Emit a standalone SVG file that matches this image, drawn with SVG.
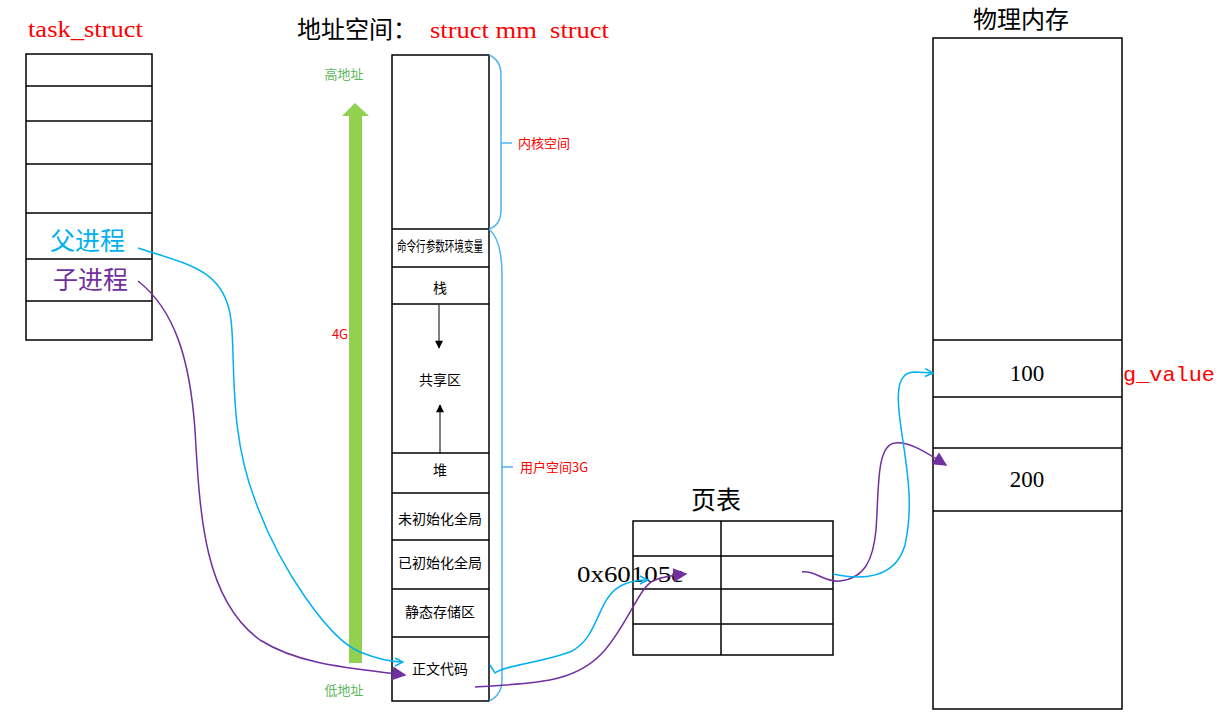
<svg xmlns="http://www.w3.org/2000/svg" width="1222" height="722" viewBox="0 0 1222 722">
<style>
.box{fill:#fff;stroke:#000;stroke-width:1.5}
.ln{stroke:#000;stroke-width:1.5}
.serif{font-family:"Liberation Serif","Noto Sans CJK SC",serif}
.cjk{font-family:"Noto Sans CJK SC","Liberation Serif",sans-serif}
.cell{font-family:"Noto Sans CJK SC",sans-serif;font-size:14px;fill:#000;text-anchor:middle}
.red{fill:#ff0000}
.lbl{font-family:"Noto Sans CJK SC",sans-serif;font-size:13px}
.green{fill:#5db75d}
.blue{fill:none;stroke:#00b0f0;stroke-width:1.5}
.purple{fill:none;stroke:#7030a0;stroke-width:1.5}
.brace{fill:none;stroke:#4fb3f0;stroke-width:1.5}
</style>
<defs>
<marker id="openBlue" viewBox="0 0 10 10" refX="9" refY="5" markerWidth="10" markerHeight="10" markerUnits="userSpaceOnUse" orient="auto">
<path d="M1,1 L9,5 L1,9" fill="none" stroke="#00b0f0" stroke-width="1.5"/>
</marker>
<marker id="fillPurple" viewBox="0 0 10 10" refX="9" refY="5" markerWidth="18" markerHeight="14" markerUnits="userSpaceOnUse" orient="auto">
<path d="M0,0 L10,5 L0,10 Z" fill="#7030a0"/>
</marker>
<marker id="blackArrow" viewBox="0 0 10 10" refX="9" refY="5" markerWidth="16" markerHeight="8" markerUnits="userSpaceOnUse" orient="auto">
<path d="M0,0 L10,5 L0,10 Z" fill="#000"/>
</marker>
</defs>

<g id="task_struct">
<text x="28" y="37" class="serif red" font-size="24" textLength="115" lengthAdjust="spacingAndGlyphs">task_struct</text>
<rect x="26" y="54" width="126" height="286" class="box"/>
<line x1="26" y1="86" x2="152" y2="86" class="ln"/>
<line x1="26" y1="121" x2="152" y2="121" class="ln"/>
<line x1="26" y1="164" x2="152" y2="164" class="ln"/>
<line x1="26" y1="213" x2="152" y2="213" class="ln"/>
<line x1="26" y1="259" x2="152" y2="259" class="ln"/>
<line x1="26" y1="301" x2="152" y2="301" class="ln"/>
<text x="50" y="250" class="cjk" font-size="25" fill="#00b0f0">父进程</text>
<text x="53" y="289" class="cjk" font-size="25" fill="#7030a0">子进程</text>
</g>

<g id="addr_title">
<text x="297" y="38" class="cjk" font-size="24" fill="#000">地址空间：</text>
<text x="430" y="38" class="serif red" font-size="24" style="white-space:pre" textLength="179" lengthAdjust="spacingAndGlyphs">struct mm  struct</text>
</g>

<g id="addr_arrow">
<text x="344" y="79" class="lbl green" text-anchor="middle">高地址</text>
<rect x="349" y="115" width="13" height="548" fill="#92d050"/>
<path d="M342,116 L355,103 L369,116 Z" fill="#92d050"/>
<text x="340" y="339" class="lbl red" text-anchor="middle">4G</text>
<text x="344" y="695" class="lbl green" text-anchor="middle">低地址</text>
</g>

<g id="address_space">
<rect x="392" y="55" width="97" height="646" class="box"/>
<line x1="392" y1="229" x2="489" y2="229" class="ln"/>
<line x1="392" y1="267" x2="489" y2="267" class="ln"/>
<line x1="392" y1="304" x2="489" y2="304" class="ln"/>
<line x1="392" y1="453" x2="489" y2="453" class="ln"/>
<line x1="392" y1="493" x2="489" y2="493" class="ln"/>
<line x1="392" y1="540" x2="489" y2="540" class="ln"/>
<line x1="392" y1="589" x2="489" y2="589" class="ln"/>
<line x1="392" y1="637" x2="489" y2="637" class="ln"/>
<text x="440" y="251" class="cell" font-size="11" textLength="86" lengthAdjust="spacingAndGlyphs">命令行参数环境变量</text>
<text x="440" y="293" class="cell" font-size="16">栈</text>
<line x1="439" y1="305" x2="439" y2="348" stroke="#000" stroke-width="1" marker-end="url(#blackArrow)"/>
<text x="440" y="385" class="cell">共享区</text>
<line x1="440" y1="453" x2="440" y2="405" stroke="#000" stroke-width="1" marker-end="url(#blackArrow)"/>
<text x="440" y="475" class="cell">堆</text>
<text x="440" y="524" class="cell">未初始化全局</text>
<text x="440" y="568" class="cell">已初始化全局</text>
<text x="440" y="617" class="cell">静态存储区</text>
<text x="440" y="674" class="cell">正文代码</text>
</g>

<g id="kernel_brace">
<path d="M489,55 Q501,60 501,75 L501,210 Q501,225 489,229" class="brace"/>
<line x1="501" y1="143" x2="512" y2="143" class="brace"/>
<text x="518" y="148" class="lbl red">内核空间</text>
</g>

<g id="user_brace">
<path d="M489,229 Q502,240 502,275 L502,680 Q502,695 489,701" class="brace"/>
<line x1="502" y1="467" x2="513" y2="467" class="brace"/>
<text x="520" y="472" class="lbl red">用户空间3G</text>
</g>

<g id="page_table">
<text x="716" y="509" class="cjk" font-size="25" fill="#000" text-anchor="middle">页表</text>
<rect x="633" y="521" width="200" height="134" class="box"/>
<line x1="721" y1="521" x2="721" y2="655" class="ln"/>
<line x1="633" y1="556" x2="833" y2="556" class="ln"/>
<line x1="633" y1="589" x2="833" y2="589" class="ln"/>
<line x1="633" y1="624" x2="833" y2="624" class="ln"/>
<text x="577" y="582" class="serif" font-size="24" fill="#000" textLength="106" lengthAdjust="spacingAndGlyphs">0x60105c</text>
</g>

<g id="physical_memory">
<text x="1021" y="28" class="cjk" font-size="24" fill="#000" text-anchor="middle">物理内存</text>
<rect x="933" y="38" width="189" height="671" class="box"/>
<line x1="933" y1="340" x2="1122" y2="340" class="ln"/>
<line x1="933" y1="397" x2="1122" y2="397" class="ln"/>
<line x1="933" y1="448" x2="1122" y2="448" class="ln"/>
<line x1="933" y1="511" x2="1122" y2="511" class="ln"/>
<text x="1027" y="381" class="serif" font-size="23" fill="#000" text-anchor="middle">100</text>
<text x="1027" y="487" class="serif" font-size="23" fill="#000" text-anchor="middle">200</text>
<text x="1123" y="381" font-family="Liberation Mono, monospace" font-size="21" class="red" textLength="92" lengthAdjust="spacingAndGlyphs">g_value</text>
</g>

<g id="connectors">
<path d="M138,248 C190,265 225,270 231,320 C236,360 228,430 255,500 C280,570 330,640 360,652 C380,660 392,662 403,662" class="blue" marker-end="url(#openBlue)"/>
<path d="M138,281 C175,310 190,360 195,430 C200,520 205,600 260,640 C300,665 350,668 405,675" class="purple" marker-end="url(#fillPurple)"/>
<path d="M490,665 L495,673 C505,665 540,663 570,652 C595,640 597,610 610,595 C620,582 635,580 648,580" class="blue" marker-end="url(#openBlue)"/>
<path d="M475,687 C530,683 575,685 605,650 C630,620 640,585 655,580 C665,576 675,575 686,574" class="purple" marker-end="url(#fillPurple)"/>
<path d="M802,572 C815,570 825,583 840,581 C865,578 873,560 876,530 C879,490 876,445 895,443 C910,441 930,455 946,465" class="purple" marker-end="url(#fillPurple)"/>
<path d="M833,574 C860,580 895,580 905,545 C915,500 905,460 900,420 C896,390 898,372 915,372 L933,373" class="blue" marker-end="url(#openBlue)"/>
</g>
</svg>
